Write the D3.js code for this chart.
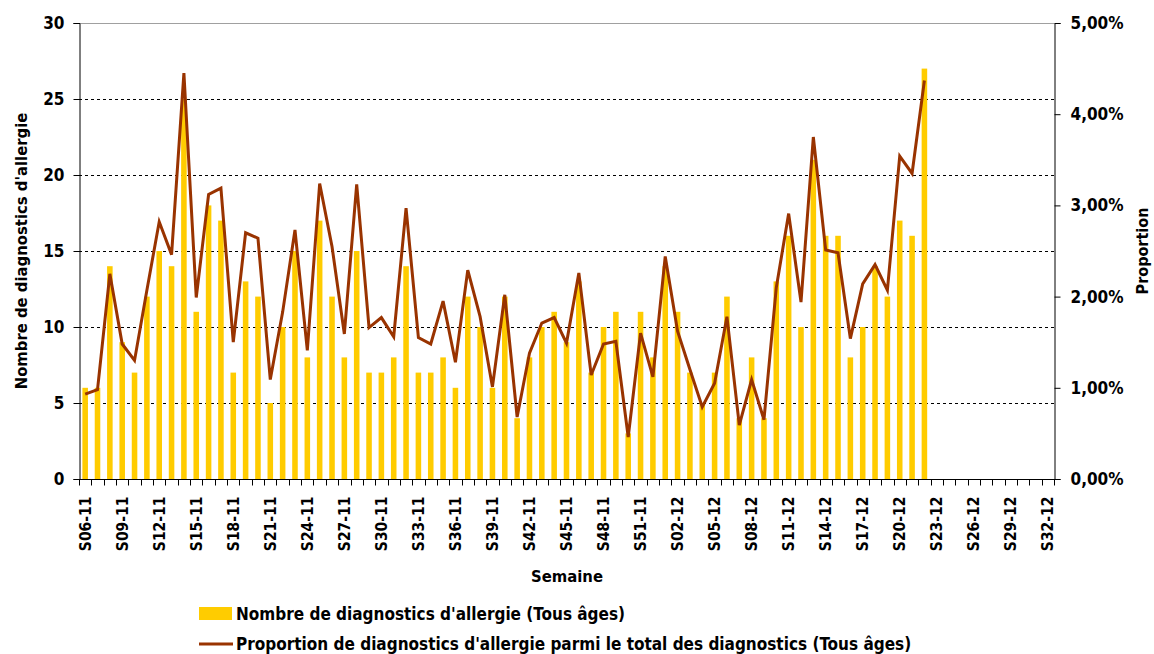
<!DOCTYPE html>
<html><head><meta charset="utf-8">
<script src="https://cdn.jsdelivr.net/npm/d3@7"></script>
<style>body{margin:0;background:#fff}svg{display:block}text{font-family:"DejaVu Sans Condensed","DejaVu Sans",sans-serif;font-weight:bold;fill:#000}</style>
</head><body><svg id="c" width="1154" height="654"></svg>
<script>
const weeks = [
 "S06-11","S07-11","S08-11","S09-11","S10-11","S11-11","S12-11","S13-11","S14-11","S15-11",
 "S16-11","S17-11","S18-11","S19-11","S20-11","S21-11","S22-11","S23-11","S24-11","S25-11",
 "S26-11","S27-11","S28-11","S29-11","S30-11","S31-11","S32-11","S33-11","S34-11","S35-11",
 "S36-11","S37-11","S38-11","S39-11","S40-11","S41-11","S42-11","S43-11","S44-11","S45-11",
 "S46-11","S47-11","S48-11","S49-11","S50-11","S51-11","S52-11","S01-12","S02-12","S03-12",
 "S04-12","S05-12","S06-12","S07-12","S08-12","S09-12","S10-12","S11-12","S12-12","S13-12",
 "S14-12","S15-12","S16-12","S17-12","S18-12","S19-12","S20-12","S21-12","S22-12","S23-12",
 "S24-12","S25-12","S26-12","S27-12","S28-12","S29-12","S30-12","S31-12","S32-12"
];
// Nombre de diagnostics d'allergie (Tous âges), S06-11 .. S22-12
const counts = [
 6,6,14,9,7,12,15,14,25,11,
 18,17,7,13,12,5,10,15,8,17,
 12,8,15,7,7,8,14,7,7,8,
 6,12,10,6,12,4,8,10,11,9,
 13,7,10,11,3,11,8,14,11,7,
 5,7,12,4,8,4,13,16,10,21,
 16,16,8,10,14,12,17,16,27
];
// Proportion (%) parmi le total des diagnostics
const proportions = [
 0.93,0.98,2.25,1.48,1.30,2.07,2.82,2.46,4.45,1.99,
 3.12,3.19,1.50,2.70,2.64,1.09,1.83,2.73,1.41,3.24,
 2.55,1.59,3.23,1.66,1.77,1.56,2.97,1.55,1.48,1.95,
 1.28,2.29,1.78,1.01,2.02,0.68,1.38,1.71,1.77,1.49,
 2.26,1.14,1.48,1.51,0.46,1.60,1.12,2.44,1.62,1.20,
 0.79,1.05,1.78,0.59,1.09,0.65,2.10,2.91,1.94,3.75,
 2.51,2.48,1.54,2.14,2.35,2.07,3.54,3.35,4.37
];
const countTicks = [0,5,10,15,20,25,30];
const propTicks = [0,1,2,3,4,5];
const gridTicks = [5,10,15,20,25];
const legendLabels = [
 "Nombre de diagnostics d'allergie (Tous âges)",
 "Proportion de diagnostics d'allergie parmi le total des diagnostics (Tous âges)"
];

const L = 79, R = 1054, T = 23, B = 479;
const svg = d3.select("#c");
const x = d3.scaleBand().domain(weeks).range([L, R]).padding(0);
const y = d3.scaleLinear().domain([0, 30]).range([B, T]);
const y2 = d3.scaleLinear().domain([0, 5]).range([B, T]);
const fr = d3.formatLocale({decimal: ",", thousands: " ", grouping: [3], currency: ["", "€"]});
const pct = v => fr.format(".2f")(v) + "%";

// top border
svg.append("line").attr("x1", L).attr("x2", R).attr("y1", T + 0.5).attr("y2", T + 0.5)
  .attr("stroke", "#a0a0a0").attr("stroke-width", 1);

// grid lines
svg.append("g").selectAll("line").data(gridTicks).join("line")
  .attr("x1", L).attr("x2", R)
  .attr("y1", d => Math.round(y(d)) + 0.5).attr("y2", d => Math.round(y(d)) + 0.5)
  .attr("stroke", "#000").attr("stroke-width", 1).attr("stroke-dasharray", "3,3");

// bars
const bw = x.bandwidth() * 0.45;
svg.append("g").selectAll("rect").data(counts).join("rect")
  .attr("x", (d, i) => x(weeks[i]) + x.bandwidth() / 2 - bw / 2)
  .attr("width", bw)
  .attr("y", d => y(d))
  .attr("height", d => B - y(d))
  .attr("fill", "#FFCC00");

// line
const line = d3.line()
  .x((d, i) => x(weeks[i]) + x.bandwidth() / 2)
  .y(d => y2(d));
svg.append("path").datum(proportions).attr("d", line)
  .attr("fill", "none").attr("stroke", "#993300").attr("stroke-width", 3);

// left axis
const gl = svg.append("g").attr("transform", `translate(${L + 0.5},0)`)
  .call(d3.axisLeft(y).tickValues(countTicks).tickSize(6).tickPadding(9));
gl.selectAll("text").style("font-size", "17px");

// right axis
const gr = svg.append("g").attr("transform", `translate(${R + 0.5},0)`)
  .call(d3.axisRight(y2).tickValues(propTicks).tickSize(6).tickPadding(10).tickFormat(pct));
gr.selectAll("text").style("font-size", "17px");

// bottom axis: ticks at every band boundary
const gb = svg.append("g").attr("transform", `translate(0,${B + 0.5})`);
gb.append("line").attr("x1", L).attr("x2", R + 1).attr("stroke", "#000");
const bounds = weeks.map(w => x(w)).concat([R]);
gb.selectAll("line.tk").data(bounds).join("line").attr("class", "tk")
  .attr("x1", d => Math.round(d) + 0.5).attr("x2", d => Math.round(d) + 0.5)
  .attr("y1", 0).attr("y2", 6).attr("stroke", "#000");
gb.selectAll("text").data(weeks.filter((w, i) => i % 3 === 0)).join("text")
  .attr("transform", d => `translate(${x(d) + x.bandwidth() / 2},17) rotate(-90)`)
  .attr("text-anchor", "end").attr("dy", "0.36em")
  .style("font-size", "15.5px").text(d => d);

gl.select(".domain").attr("stroke", "#000");
gr.select(".domain").attr("stroke", "#000");

// axis titles
svg.append("text").attr("transform", `translate(21,${(T + B) / 2}) rotate(-90)`)
  .attr("text-anchor", "middle").attr("dy", "0.36em").style("font-size", "16.5px")
  .text("Nombre de diagnostics d'allergie");
svg.append("text").attr("transform", `translate(1142,${(T + B) / 2}) rotate(-90)`)
  .attr("text-anchor", "middle").attr("dy", "0.36em").style("font-size", "16px")
  .text("Proportion");
svg.append("text").attr("x", 567).attr("y", 576).attr("text-anchor", "middle")
  .attr("dy", "0.36em").style("font-size", "16.5px").text("Semaine");

// legend
const lg = svg.append("g");
lg.append("rect").attr("x", 199).attr("y", 607).attr("width", 33).attr("height", 13).attr("fill", "#FFCC00");
lg.append("line").attr("x1", 199).attr("x2", 233).attr("y1", 644).attr("y2", 644)
  .attr("stroke", "#993300").attr("stroke-width", 3);
lg.selectAll("text").data(legendLabels).join("text")
  .attr("x", 236).attr("y", (d, i) => 614 + i * 30).attr("dy", "0.36em")
  .style("font-size", "17px").text(d => d);
</script></body></html>
